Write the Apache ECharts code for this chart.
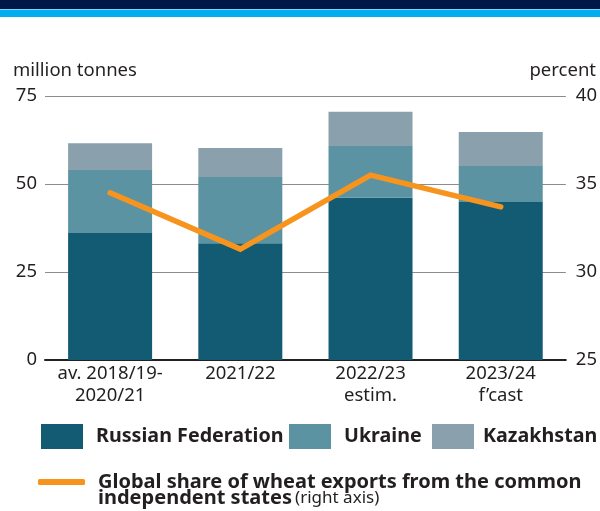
<!DOCTYPE html>
<html>
<head>
<meta charset="utf-8">
<script src="https://cdn.jsdelivr.net/npm/echarts@6/dist/echarts.min.js"></script>
<style>
  html, body { margin: 0; padding: 0; background: #fff; }
  #chart { width: 600px; height: 511px; }
</style>
</head>
<body>
<div id="chart"></div>
<script>
// Wheat exports of CIS producers, million tonnes, with their global share (percent)
const categories = ['av. 2018/19-\n2020/21', '2021/22', '2022/23\nestim.', '2023/24\nf\u2019cast'];
const russia = [36.1, 33.2, 46.1, 44.9];
const ukraine = [17.9, 18.8, 14.7, 10.2];
const kazakhstan = [7.6, 8.2, 9.7, 9.7];
const globalShare = [34.5, 31.3, 35.5, 33.7];
const leftTicks = { min: 0, max: 75, interval: 25 };
const rightTicks = { min: 25, max: 40, interval: 5 };

const FONT = '"Noto Sans", sans-serif';
const TEXT = '#231F20';
const SIZE = 18.5;

const chart = echarts.init(document.getElementById('chart'), null, { renderer: 'canvas' });

// one legend box per bar series so each swatch sits where it should
function barLegend(name, left, gap) {
  return {
    data: [name],
    left: left, top: 424, padding: 0,
    itemWidth: 42, itemHeight: 25,
    icon: 'rect',
    textStyle: { fontFamily: FONT, fontSize: 19.7, fontWeight: 'bold', color: TEXT, padding: [0, 0, 0, gap] },
    selectedMode: false
  };
}

chart.setOption({
  animation: false,
  backgroundColor: '#ffffff',
  textStyle: { fontFamily: FONT, color: TEXT },
  grid: { left: 45, right: 34, top: 96, bottom: 151, containLabel: false },
  graphic: [
    { type: 'rect', shape: { x: 0, y: 0, width: 600, height: 9 }, style: { fill: '#001848' } },
    { type: 'rect', shape: { x: 0, y: 9.5, width: 600, height: 7.5 }, style: { fill: '#00AEEF' } },
    { type: 'text', style: { x: 13, y: 71, text: 'million tonnes', font: SIZE + 'px ' + FONT, fill: TEXT, verticalAlign: 'middle', align: 'left' } },
    { type: 'text', style: { x: 596, y: 71, text: 'percent', font: SIZE + 'px ' + FONT, fill: TEXT, verticalAlign: 'middle', align: 'right' } }
  ],
  legend: [
    barLegend('Russian Federation', 41, 8),
    barLegend('Ukraine', 289, 8),
    barLegend('Kazakhstan', 432, 4),
    {
      data: ['share'],
      left: 38, top: 472, padding: 0,
      itemWidth: 47, itemHeight: 6,
      icon: 'roundRect',
      formatter: function () {
        return '{b|Global share of wheat exports from the common}\n{b|independent states} {n|(right axis)}';
      },
      textStyle: {
        fontFamily: FONT, color: TEXT, padding: [16, 0, 0, 8],
        rich: {
          b: { fontFamily: FONT, fontSize: 20, fontWeight: 'bold', color: TEXT, lineHeight: 16 },
          n: { fontFamily: FONT, fontSize: 17, color: TEXT, lineHeight: 16 }
        }
      },
      selectedMode: false
    }
  ],
  xAxis: {
    type: 'category',
    data: categories,
    axisLine: { show: true, lineStyle: { color: '#231F20', width: 2 } },
    axisTick: { show: false },
    axisLabel: { fontFamily: FONT, fontSize: SIZE, color: TEXT, margin: 3, lineHeight: 22, interval: 0 }
  },
  yAxis: [
    {
      type: 'value',
      min: leftTicks.min, max: leftTicks.max, interval: leftTicks.interval,
      axisLine: { show: false }, axisTick: { show: false },
      axisLabel: { fontFamily: FONT, fontSize: SIZE, color: TEXT, margin: 8 },
      splitLine: { show: true, lineStyle: { color: '#8C8C8C', width: 1.2 } }
    },
    {
      type: 'value',
      min: rightTicks.min, max: rightTicks.max, interval: rightTicks.interval,
      position: 'right',
      axisLine: { show: false }, axisTick: { show: false },
      axisLabel: { fontFamily: FONT, fontSize: SIZE, color: TEXT, margin: 10 },
      splitLine: { show: false }
    }
  ],
  series: [
    {
      name: 'Russian Federation', type: 'bar', stack: 'cis', data: russia,
      barWidth: 84, itemStyle: { color: '#135B73' }
    },
    {
      name: 'Ukraine', type: 'bar', stack: 'cis', data: ukraine,
      barWidth: 84, itemStyle: { color: '#5B93A2' }
    },
    {
      name: 'Kazakhstan', type: 'bar', stack: 'cis', data: kazakhstan,
      barWidth: 84, itemStyle: { color: '#8AA0AD' }
    },
    {
      name: 'share', type: 'line', yAxisIndex: 1, data: globalShare,
      showSymbol: false, symbol: 'none',
      itemStyle: { color: '#F7941D' },
      lineStyle: { color: '#F7941D', width: 5.5, cap: 'round', join: 'miter' },
      z: 5
    }
  ]
});
</script>
</body>
</html>
